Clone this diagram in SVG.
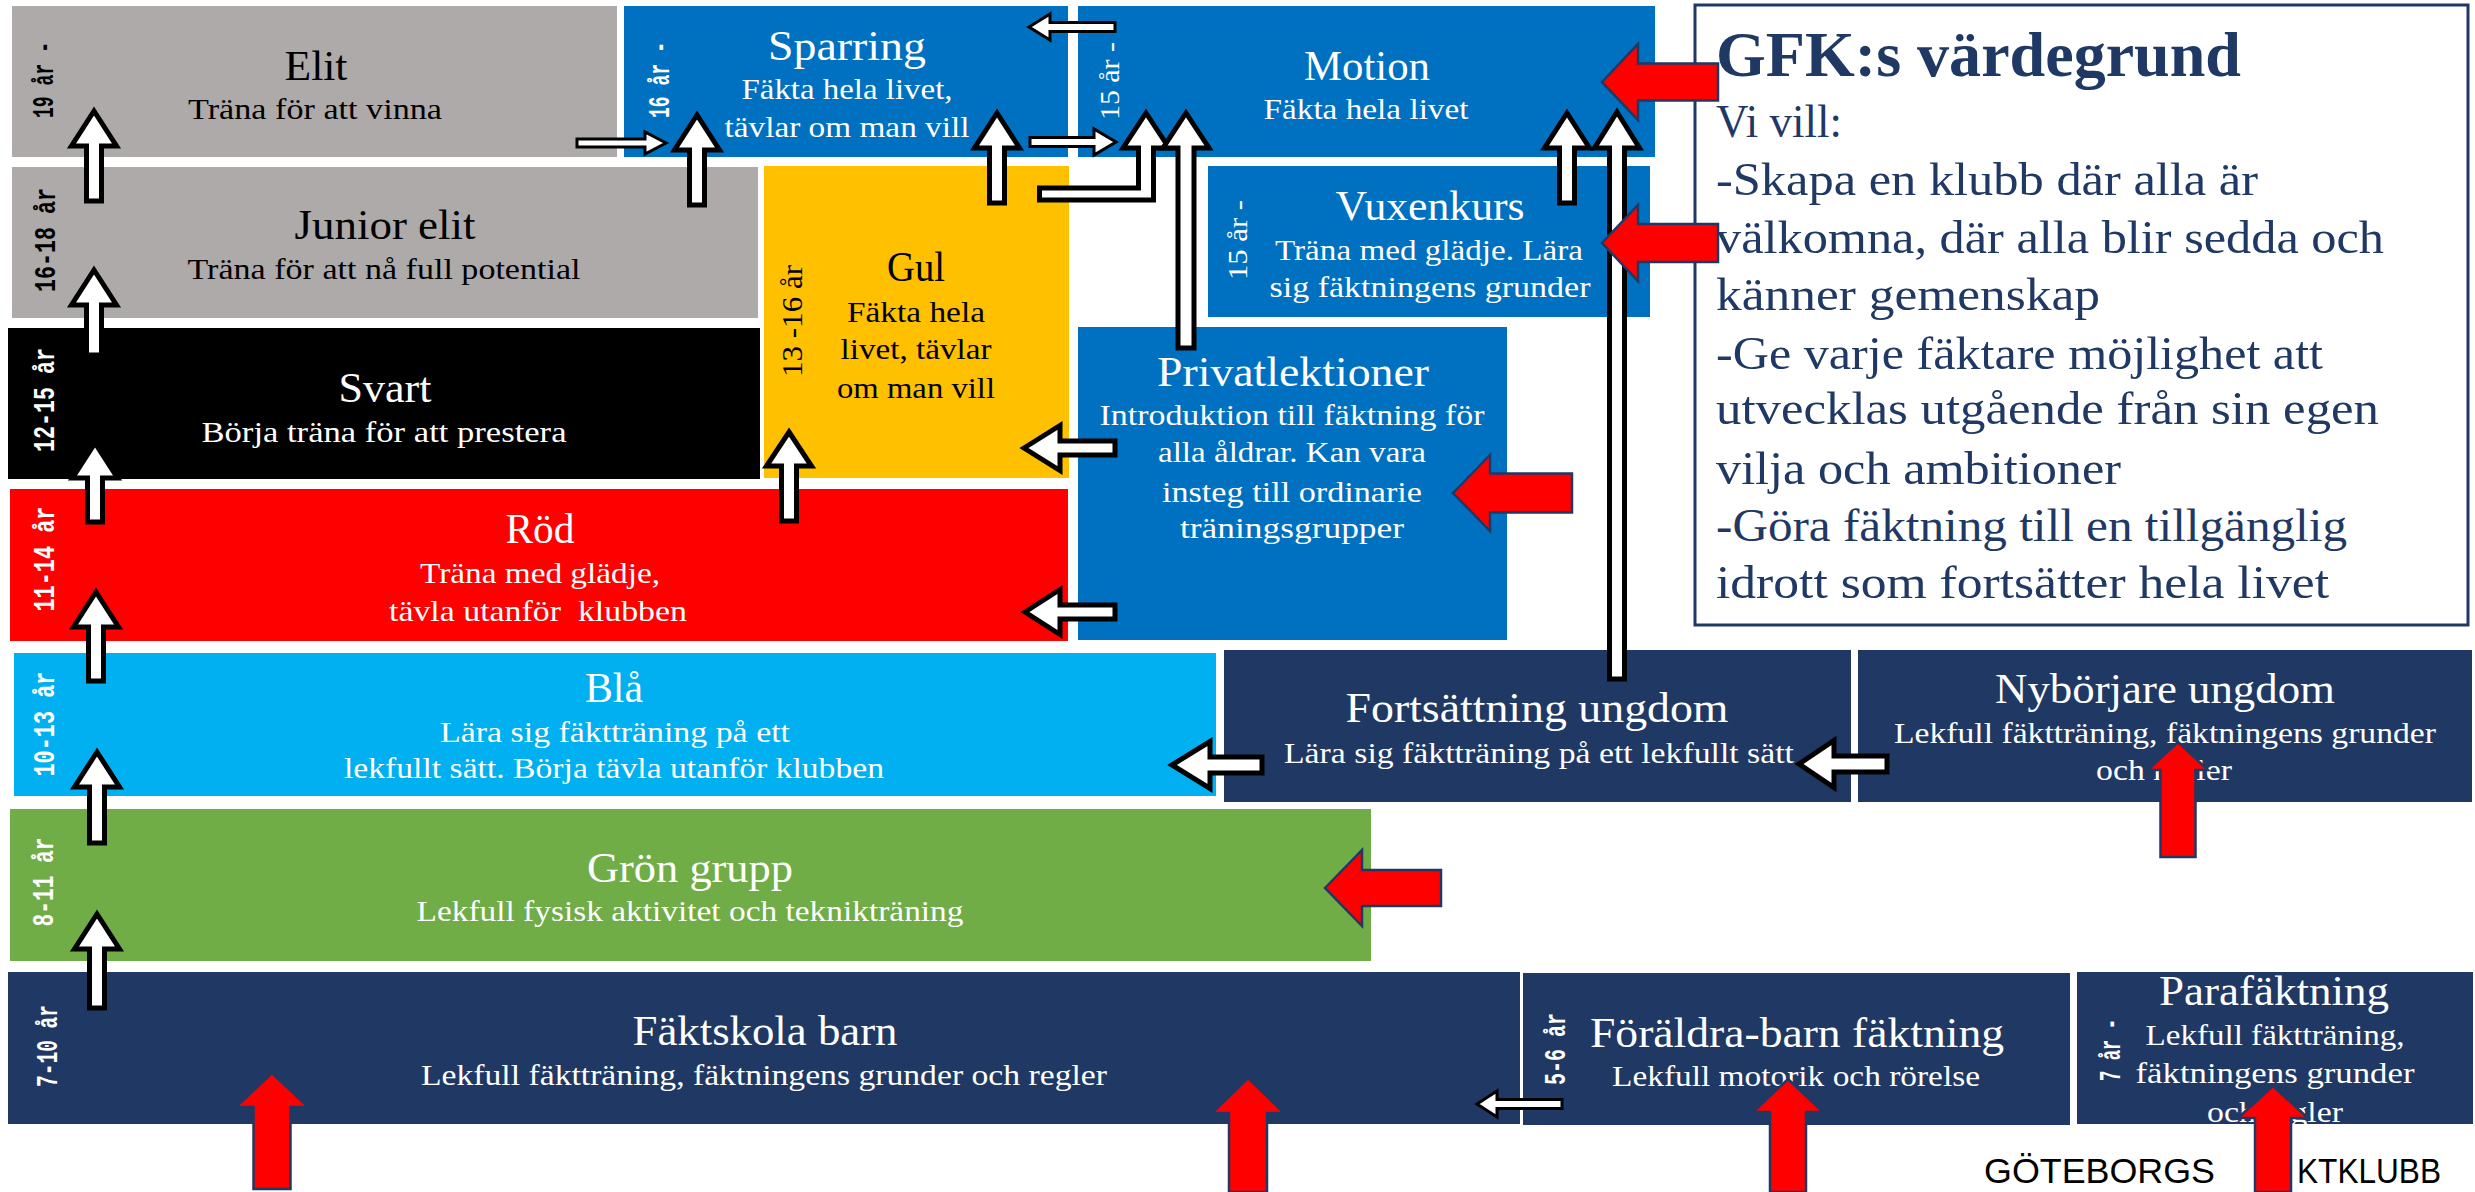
<svg xmlns="http://www.w3.org/2000/svg" width="2475" height="1192" viewBox="0 0 2475 1192">
<style>
.t{font-family:"Liberation Serif",serif;text-anchor:middle}
.ti{font-size:42px}
.su{font-size:30px}
.w{fill:#fff}
.k{fill:#000}
.age{font-family:"Liberation Mono",monospace;font-size:30px;font-weight:bold;text-anchor:middle}
.ages{font-family:"Liberation Serif",serif;font-size:28px;text-anchor:middle}
.wa{fill:#fff;stroke:#000;stroke-width:5;stroke-linejoin:miter}
.wt{fill:#fff;stroke:#000;stroke-width:3;stroke-linejoin:miter}
.ra{fill:#f00;stroke:#203864;stroke-width:2.5;stroke-linejoin:miter}
.gfk{font-family:"Liberation Serif",serif;fill:#1F3864;font-size:46px}
</style>
<rect width="2475" height="1192" fill="#fff"/>

<g id="elit">
<rect x="12" y="6" width="605" height="151" fill="#AEAAAA"/>
<text class="t ti k" x="316" y="80" textLength="63" lengthAdjust="spacingAndGlyphs">Elit</text>
<text class="t su k" x="315" y="119" textLength="254" lengthAdjust="spacingAndGlyphs">Träna för att vinna</text>
<text class="age k" transform="translate(53,80) rotate(-90)" textLength="76" lengthAdjust="spacingAndGlyphs">19 år -</text>
</g>

<g id="junior-elit">
<rect x="12" y="167" width="746" height="151" fill="#AEAAAA"/>
<text class="t ti k" x="385" y="239" textLength="181" lengthAdjust="spacingAndGlyphs">Junior elit</text>
<text class="t su k" x="384" y="279" textLength="393" lengthAdjust="spacingAndGlyphs">Träna för att nå full potential</text>
<text class="age k" transform="translate(55,240) rotate(-90)" textLength="104" lengthAdjust="spacingAndGlyphs">16-18 år</text>
</g>

<g id="sparring">
<rect x="624" y="6" width="444" height="151" fill="#0070C0"/>
<text class="t ti w" x="847" y="60" textLength="158" lengthAdjust="spacingAndGlyphs">Sparring</text>
<text class="t su w" x="847" y="99" textLength="211" lengthAdjust="spacingAndGlyphs">Fäkta hela livet,</text>
<text class="t su w" x="847" y="137" textLength="245" lengthAdjust="spacingAndGlyphs">tävlar om man vill</text>
<text class="age w" transform="translate(669,80) rotate(-90)" textLength="76" lengthAdjust="spacingAndGlyphs">16 år -</text>
</g>

<g id="motion">
<rect x="1078" y="6" width="577" height="151" fill="#0070C0"/>
<text class="t ti w" x="1367" y="80" textLength="126" lengthAdjust="spacingAndGlyphs">Motion</text>
<text class="t su w" x="1366" y="119" textLength="205" lengthAdjust="spacingAndGlyphs">Fäkta hela livet</text>
<text class="ages w" transform="translate(1119,81) rotate(-90)" textLength="78" lengthAdjust="spacingAndGlyphs">15 år -</text>
</g>

<g id="vuxenkurs">
<rect x="1208" y="166" width="442" height="151" fill="#0070C0"/>
<text class="t ti w" x="1430" y="220" textLength="189" lengthAdjust="spacingAndGlyphs">Vuxenkurs</text>
<text class="t su w" x="1429" y="260" textLength="308" lengthAdjust="spacingAndGlyphs">Träna med glädje. Lära</text>
<text class="t su w" x="1430" y="297" textLength="321" lengthAdjust="spacingAndGlyphs">sig fäktningens grunder</text>
<text class="ages w" transform="translate(1247,240) rotate(-90)" textLength="80" lengthAdjust="spacingAndGlyphs">15 år -</text>
</g>

<g id="gul">
<rect x="764" y="166" width="305" height="312" fill="#FFC000"/>
<text class="t ti k" x="916" y="281" textLength="58" lengthAdjust="spacingAndGlyphs">Gul</text>
<text class="t su k" x="916" y="322" textLength="138" lengthAdjust="spacingAndGlyphs">Fäkta hela</text>
<text class="t su k" x="916" y="359" textLength="151" lengthAdjust="spacingAndGlyphs">livet, tävlar</text>
<text class="t su k" x="916" y="398" textLength="158" lengthAdjust="spacingAndGlyphs">om man vill</text>
<text class="ages k" style="font-size:30px" transform="translate(802,321) rotate(-90)" textLength="112" lengthAdjust="spacingAndGlyphs">13 -16 år</text>
</g>

<g id="svart">
<rect x="8" y="328" width="752" height="151" fill="#000"/>
<text class="t ti w" x="385" y="402" textLength="93" lengthAdjust="spacingAndGlyphs">Svart</text>
<text class="t su w" x="384" y="442" textLength="365" lengthAdjust="spacingAndGlyphs">Börja träna för att prestera</text>
<text class="age w" transform="translate(54,400) rotate(-90)" textLength="104" lengthAdjust="spacingAndGlyphs">12-15 år</text>
</g>

<g id="rod">
<rect x="10" y="489" width="1058" height="152" fill="#FF0000"/>
<text class="t ti w" x="540" y="543" textLength="69" lengthAdjust="spacingAndGlyphs">Röd</text>
<text class="t su w" x="540" y="583" textLength="240" lengthAdjust="spacingAndGlyphs">Träna med glädje,</text>
<text class="t su w" x="538" y="621" textLength="298" lengthAdjust="spacingAndGlyphs" xml:space="preserve">tävla utanför  klubben</text>
<text class="age w" transform="translate(54,559) rotate(-90)" textLength="105" lengthAdjust="spacingAndGlyphs">11-14 år</text>
</g>

<g id="privatlektioner">
<rect x="1078" y="327" width="429" height="313" fill="#0070C0"/>
<text class="t ti w" x="1293" y="386" textLength="272" lengthAdjust="spacingAndGlyphs">Privatlektioner</text>
<text class="t su w" x="1292" y="425" textLength="385" lengthAdjust="spacingAndGlyphs">Introduktion till fäktning för</text>
<text class="t su w" x="1292" y="462" textLength="268" lengthAdjust="spacingAndGlyphs">alla åldrar. Kan vara</text>
<text class="t su w" x="1292" y="502" textLength="260" lengthAdjust="spacingAndGlyphs">insteg till ordinarie</text>
<text class="t su w" x="1292" y="538" textLength="224" lengthAdjust="spacingAndGlyphs">träningsgrupper</text>
</g>

<g id="bla">
<rect x="14" y="653" width="1202" height="143" fill="#00B0F0"/>
<text class="t ti w" x="614" y="702" textLength="58" lengthAdjust="spacingAndGlyphs">Blå</text>
<text class="t su w" x="615" y="742" textLength="350" lengthAdjust="spacingAndGlyphs">Lära sig fäktträning på ett</text>
<text class="t su w" x="614" y="778" textLength="540" lengthAdjust="spacingAndGlyphs">lekfullt sätt. Börja tävla utanför klubben</text>
<text class="age w" transform="translate(54,724) rotate(-90)" textLength="105" lengthAdjust="spacingAndGlyphs">10-13 år</text>
</g>

<g id="fortsattning-ungdom">
<rect x="1224" y="650" width="627" height="152" fill="#203864"/>
<text class="t ti w" x="1537" y="722" textLength="383" lengthAdjust="spacingAndGlyphs">Fortsättning ungdom</text>
<text class="t su w" x="1539" y="763" textLength="510" lengthAdjust="spacingAndGlyphs">Lära sig fäktträning på ett lekfullt sätt</text>
</g>

<g id="nyborjare-ungdom">
<rect x="1858" y="650" width="614" height="152" fill="#203864"/>
<text class="t ti w" x="2165" y="703" textLength="340" lengthAdjust="spacingAndGlyphs">Nybörjare ungdom</text>
<text class="t su w" x="2165" y="743" textLength="542" lengthAdjust="spacingAndGlyphs">Lekfull fäktträning, fäktningens grunder</text>
<text class="t su w" x="2164" y="780" textLength="136" lengthAdjust="spacingAndGlyphs">och regler</text>
</g>

<g id="gron-grupp">
<rect x="10" y="809" width="1361" height="152" fill="#70AD47"/>
<text class="t ti w" x="690" y="882" textLength="206" lengthAdjust="spacingAndGlyphs">Grön grupp</text>
<text class="t su w" x="690" y="921" textLength="547" lengthAdjust="spacingAndGlyphs">Lekfull fysisk aktivitet och teknikträning</text>
<text class="age w" transform="translate(53,882) rotate(-90)" textLength="89" lengthAdjust="spacingAndGlyphs">8-11 år</text>
</g>

<g id="faktskola-barn">
<rect x="8" y="972" width="1512" height="152" fill="#203864"/>
<text class="t ti w" x="765" y="1045" textLength="265" lengthAdjust="spacingAndGlyphs">Fäktskola barn</text>
<text class="t su w" x="764" y="1085" textLength="686" lengthAdjust="spacingAndGlyphs">Lekfull fäktträning, fäktningens grunder och regler</text>
<text class="age w" transform="translate(57,1046) rotate(-90)" textLength="82" lengthAdjust="spacingAndGlyphs">7-10 år</text>
</g>

<g id="foraldra-barn">
<rect x="1523" y="973" width="547" height="152" fill="#203864"/>
<text class="t ti w" x="1797" y="1047" textLength="414" lengthAdjust="spacingAndGlyphs">Föräldra-barn fäktning</text>
<text class="t su w" x="1796" y="1086" textLength="368" lengthAdjust="spacingAndGlyphs">Lekfull motorik och rörelse</text>
<text class="age w" transform="translate(1565,1049) rotate(-90)" textLength="72" lengthAdjust="spacingAndGlyphs">5-6 år</text>
</g>

<g id="parafaktning">
<rect x="2077" y="972" width="396" height="152" fill="#203864"/>
<text class="t ti w" x="2274" y="1005" textLength="230" lengthAdjust="spacingAndGlyphs">Parafäktning</text>
<text class="t su w" x="2275" y="1045" textLength="259" lengthAdjust="spacingAndGlyphs">Lekfull fäktträning,</text>
<text class="t su w" x="2275" y="1083" textLength="279" lengthAdjust="spacingAndGlyphs">fäktningens grunder</text>
<text class="t su w" x="2275" y="1122" textLength="136" lengthAdjust="spacingAndGlyphs">och regler</text>
<text class="age w" transform="translate(2120,1050) rotate(-90)" textLength="62" lengthAdjust="spacingAndGlyphs">7 år -</text>
</g>

<g id="vardegrund">
<rect x="1695" y="5" width="773" height="620" fill="#fff" stroke="#203864" stroke-width="3"/>
<text x="1716" y="76" font-family="Liberation Serif, serif" font-weight="bold" font-size="64" fill="#1F3864" textLength="525" lengthAdjust="spacingAndGlyphs">GFK:s värdegrund</text>
<text class="gfk" x="1716" y="137" textLength="126" lengthAdjust="spacingAndGlyphs">Vi vill:</text>
<text class="gfk" x="1716" y="195" textLength="542" lengthAdjust="spacingAndGlyphs">-Skapa en klubb där alla är</text>
<text class="gfk" x="1716" y="253" textLength="668" lengthAdjust="spacingAndGlyphs">välkomna, där alla blir sedda och</text>
<text class="gfk" x="1716" y="310" textLength="384" lengthAdjust="spacingAndGlyphs">känner gemenskap</text>
<text class="gfk" x="1716" y="369" textLength="607" lengthAdjust="spacingAndGlyphs">-Ge varje fäktare möjlighet att</text>
<text class="gfk" x="1716" y="424" textLength="663" lengthAdjust="spacingAndGlyphs">utvecklas utgående från sin egen</text>
<text class="gfk" x="1716" y="484" textLength="405" lengthAdjust="spacingAndGlyphs">vilja och ambitioner</text>
<text class="gfk" x="1716" y="541" textLength="631" lengthAdjust="spacingAndGlyphs">-Göra fäktning till en tillgänglig</text>
<text class="gfk" x="1716" y="598" textLength="613" lengthAdjust="spacingAndGlyphs">idrott som fortsätter hela livet</text>
</g>

<g id="logo">
<text y="1183" font-family="Liberation Sans, sans-serif" font-size="35" fill="#000"><tspan x="1984" textLength="231" lengthAdjust="spacingAndGlyphs">GÖTEBORGS</tspan> <tspan x="2255" textLength="34" lengthAdjust="spacingAndGlyphs">FÄ</tspan><tspan x="2297" textLength="144" lengthAdjust="spacingAndGlyphs">KTKLUBB</tspan></text>
</g>

<g id="connectors">
<path class="wa" d="M94,111 L116.5,146 L101.5,146 L101.5,201 L86.5,201 L86.5,146 L71.5,146 Z"/>
<path class="wa" d="M94,270 L116.5,305 L101.5,305 L101.5,355 L86.5,355 L86.5,305 L71.5,305 Z"/>
<path class="wa" d="M95,443 L117.5,478 L102.5,478 L102.5,522 L87.5,522 L87.5,478 L72.5,478 Z"/>
<path class="wa" d="M96,592 L118.5,627 L103.5,627 L103.5,681 L88.5,681 L88.5,627 L73.5,627 Z"/>
<path class="wa" d="M97,752 L119.5,787 L104.5,787 L104.5,843 L89.5,843 L89.5,787 L74.5,787 Z"/>
<path class="wa" d="M97,914 L119.5,949 L104.5,949 L104.5,1008 L89.5,1008 L89.5,949 L74.5,949 Z"/>
<path class="wa" d="M697,115 L719.5,150 L704.5,150 L704.5,205 L689.5,205 L689.5,150 L674.5,150 Z"/>
<path class="wa" d="M997,113 L1019.5,148 L1004.5,148 L1004.5,203 L989.5,203 L989.5,148 L974.5,148 Z"/>
<path class="wa" d="M789,432 L811.5,466 L796.5,466 L796.5,521 L781.5,521 L781.5,466 L766.5,466 Z"/>
<path class="wa" d="M1146,113 L1169,148 L1153.5,148 L1153.5,200 L1039.5,200 L1039.5,188 L1138.5,188 L1138.5,148 L1123,148 Z"/>
<path class="wa" d="M1186,113 L1209,148 L1194,148 L1194,348 L1178,348 L1178,148 L1163,148 Z"/>
<path class="wa" d="M1567,113 L1589.5,148 L1574.5,148 L1574.5,203 L1559.5,203 L1559.5,148 L1544.5,148 Z"/>
<path class="wa" d="M1617,112 L1639.5,148 L1624.5,148 L1624.5,679 L1609.5,679 L1609.5,148 L1594.5,148 Z"/>
<path class="wa" d="M1024,448 L1060,425.5 L1060,441 L1115,441 L1115,455 L1060,455 L1060,470.5 Z"/>
<path class="wa" d="M1025,612 L1060,589.5 L1060,605 L1115,605 L1115,619 L1060,619 L1060,634.5 Z"/>
<path class="wa" d="M1172,765 L1210,741.5 L1210,757 L1262,757 L1262,773 L1210,773 L1210,788.5 Z"/>
<path class="wa" d="M1799,764 L1834,740.5 L1834,756 L1887,756 L1887,772 L1834,772 L1834,787.5 Z"/>
<path class="wt" d="M577,139 L645,139 L645,132 L666,143 L645,154 L645,147 L577,147 Z"/>
<path class="wt" d="M1030,137.5 L1094,137.5 L1094,129 L1116,142 L1094,155 L1094,146.5 L1030,146.5 Z"/>
<path class="wt" d="M1029,27 L1050,14 L1050,22.5 L1115,22.5 L1115,31.5 L1050,31.5 L1050,40 Z"/>
<path class="wt" d="M1477,1104 L1497,1091 L1497,1099.5 L1562,1099.5 L1562,1108.5 L1497,1108.5 L1497,1117 Z"/>
<path class="ra" d="M1602,82 L1638,44 L1638,63.5 L1718,63.5 L1718,100.5 L1638,100.5 L1638,120 Z"/>
<path class="ra" d="M1602,243 L1638,205 L1638,224 L1718,224 L1718,262 L1638,262 L1638,281 Z"/>
<path class="ra" d="M1453,493 L1490,455 L1490,473.5 L1572,473.5 L1572,512.5 L1490,512.5 L1490,531 Z"/>
<path class="ra" d="M1325,888 L1362,850 L1362,870 L1441,870 L1441,906 L1362,906 L1362,926 Z"/>
<path class="ra" d="M2178,742 L2208,770 L2195.5,770 L2195.5,857 L2160.5,857 L2160.5,770 L2148,770 Z"/>
<path class="ra" d="M272,1073 L308,1107 L290.5,1107 L290.5,1189 L253.5,1189 L253.5,1107 L236,1107 Z"/>
<path class="ra" d="M1248,1078 L1284,1113 L1267,1113 L1267,1192 L1229,1192 L1229,1113 L1212,1113 Z"/>
<path class="ra" d="M1788,1079 L1823,1112 L1806,1112 L1806,1192 L1770,1192 L1770,1112 L1753,1112 Z"/>
<path class="ra" d="M2273,1086 L2308,1118 L2291,1118 L2291,1192 L2255,1192 L2255,1118 L2238,1118 Z"/>
</g>
</svg>
